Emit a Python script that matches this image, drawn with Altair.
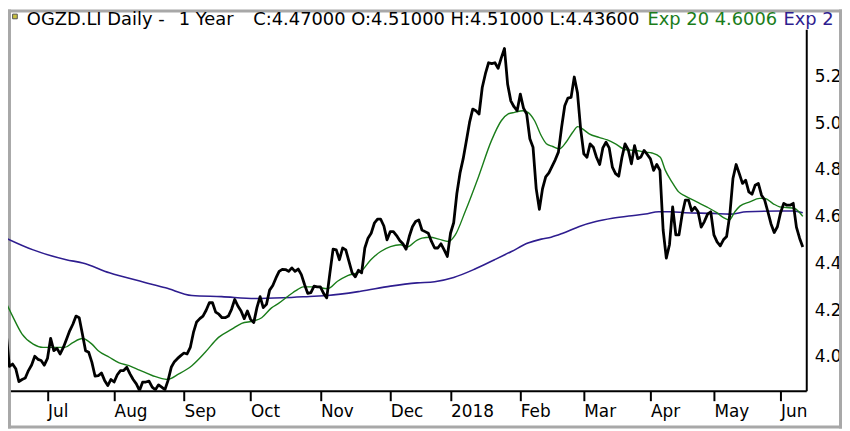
import altair as alt
import pandas as pd

# ---- data (trading-day index, daily close) ----
close = [
    4.10, 3.96, 3.97, 3.95, 3.895, 3.904, 3.91, 3.942, 3.966, 4.003,
    3.99, 3.985, 3.965, 3.994, 4.08, 4.027, 4.037, 4.013, 4.041, 4.076,
    4.112, 4.14, 4.175, 4.168, 4.098, 4.027, 4.02, 3.977, 3.918, 3.92,
    3.932, 3.90, 3.878, 3.904, 3.893, 3.924, 3.942, 3.942, 3.956, 3.928,
    3.904, 3.885, 3.857, 3.893, 3.893, 3.897, 3.871, 3.86, 3.881, 3.871,
    3.86, 3.90, 3.956, 3.98, 3.994, 4.006, 4.017, 4.013, 4.041, 4.105,
    4.15, 4.164, 4.175, 4.20, 4.232, 4.232, 4.192, 4.183, 4.168, 4.168,
    4.175, 4.204, 4.246, 4.218, 4.197, 4.164, 4.197, 4.161, 4.147, 4.211,
    4.258, 4.211, 4.225, 4.286, 4.306, 4.338, 4.366, 4.375, 4.374, 4.366,
    4.381, 4.366, 4.376, 4.352, 4.31, 4.272, 4.275, 4.303, 4.30, 4.30,
    4.272, 4.253, 4.36, 4.461, 4.458, 4.416, 4.466, 4.458, 4.409, 4.36,
    4.343, 4.371, 4.36, 4.466, 4.508, 4.529, 4.572, 4.589, 4.589, 4.56,
    4.501, 4.536, 4.536, 4.519, 4.498, 4.484, 4.461, 4.515, 4.557, 4.579,
    4.586, 4.543, 4.536, 4.529, 4.494, 4.466, 4.466, 4.484, 4.458, 4.43,
    4.529, 4.574, 4.699, 4.787, 4.848, 4.925, 5.003, 5.06, 5.053, 5.039,
    5.152, 5.211, 5.258, 5.254, 5.258, 5.234, 5.279, 5.319, 5.166, 5.095,
    5.07, 5.053, 5.124, 5.064, 5.039, 4.933, 4.897, 4.72, 4.631, 4.72,
    4.77, 4.787, 4.815, 4.843, 4.876, 4.982, 5.074, 5.107, 5.11, 5.197,
    5.13, 4.975, 4.869, 4.854, 4.911, 4.897, 4.854, 4.823, 4.894, 4.918,
    4.894, 4.812, 4.784, 4.773, 4.852, 4.911, 4.886, 4.826, 4.904, 4.848,
    4.855, 4.883, 4.866, 4.847, 4.798, 4.823, 4.798, 4.543, 4.423, 4.48,
    4.642, 4.522, 4.522, 4.61, 4.671, 4.671, 4.625, 4.64, 4.621, 4.555,
    4.579, 4.611, 4.621, 4.522, 4.492, 4.475, 4.501, 4.515, 4.607, 4.763,
    4.823, 4.784, 4.742, 4.756, 4.706, 4.696, 4.734, 4.742, 4.692, 4.671,
    4.621, 4.569, 4.532, 4.557, 4.617, 4.657, 4.649, 4.649, 4.657, 4.555,
    4.508, 4.47,
]

ema20_idx = [0, 2, 5, 8.5, 11.6, 14.7, 18.4, 21, 24, 27, 29, 32.5, 35.6, 38.7, 42,
             46, 50.7, 54.4, 58.5, 62.7, 66.9, 71.1, 74.2, 77.9, 80.5, 83.6, 85.7,
             88.8, 91.9, 93.5, 97.1, 101.3, 104.4, 107.6, 111.7, 114.9, 118, 121.1,
             124.2, 126.3, 129.5, 131, 133.6, 136.3, 139.4, 141.5, 144.6, 148.8,
             152.9, 156, 158.2, 160.2, 162.8, 164.4, 166.5, 168.6, 170.2, 172.2,
             174.3, 176.4, 178.5, 180.1, 181.6, 183.7, 186.8, 189.4, 192, 195.2,
             198.3, 201.4, 203.5, 206.1, 207.7, 209.8, 211.9, 214, 217.6, 220.7,
             223.9, 225.9, 227.8, 229.6, 231.2, 234.3, 237.4, 239, 241.6, 243.7,
             245.8, 248.4, 251]
ema20_val = [4.232, 4.175, 4.098, 4.055, 4.041, 4.041, 4.041, 4.062, 4.079, 4.055, 4.027,
             3.999, 3.975, 3.963, 3.944, 3.921, 3.904, 3.928, 3.963, 4.02, 4.084, 4.119,
             4.144, 4.154, 4.168, 4.21, 4.228, 4.26, 4.289, 4.30, 4.30, 4.292, 4.324,
             4.348, 4.366, 4.416, 4.451, 4.472, 4.48, 4.47, 4.50, 4.508, 4.512, 4.504,
             4.494, 4.522, 4.621, 4.77, 4.925, 5.01, 5.039, 5.046, 5.053, 5.046, 5.01,
             4.946, 4.912, 4.90, 4.89, 4.918, 4.961, 4.985, 4.975, 4.954, 4.939, 4.928,
             4.911, 4.886, 4.883, 4.876, 4.872, 4.854, 4.798, 4.748, 4.706, 4.688,
             4.663, 4.642, 4.617, 4.597, 4.586, 4.621, 4.645, 4.663, 4.678, 4.678,
             4.656, 4.642, 4.639, 4.635, 4.601]

ema200_idx = [0, 8.5, 18.9, 24.1, 32.5, 43.4, 50.2, 58.5, 67.9, 78.4, 87.2, 97, 101.3,
              111.7, 121.1, 129.5, 135, 141, 147.7, 153.9, 159.2, 164.4, 168.6, 171.7,
              175.4, 180.6, 185.8, 191, 196.2, 201.4, 205.6, 209.6, 213.9, 222.8, 228,
              233.3, 243.7, 247.9, 251]
ema200_val = [4.508, 4.458, 4.416, 4.402, 4.36, 4.32, 4.296, 4.263, 4.258, 4.25, 4.253,
              4.26, 4.263, 4.281, 4.303, 4.317, 4.322, 4.34, 4.376, 4.416, 4.451, 4.487,
              4.504, 4.512, 4.529, 4.558, 4.579, 4.593, 4.603, 4.611, 4.621, 4.621,
              4.617, 4.614, 4.611, 4.621, 4.624, 4.624, 4.617]

month_idx = [13, 34, 56, 77, 99, 121, 140, 162, 182, 203, 223, 244]
month_lbl = ["Jul", "Aug", "Sep", "Oct", "Nov", "Dec", "2018", "Feb", "Mar", "Apr", "May", "Jun"]
y_ticks = [4.0, 4.2, 4.4, 4.6, 4.8, 5.0, 5.2]

hdr_text = ["OGZD.LI Daily -", "1 Year", "C:4.47000 O:4.51000 H:4.51000 L:4.43600",
            "Exp 20 4.6006", "Exp 200 4.6170"]

# ---- styles ----
FONT = "DejaVu Sans"
GREEN = "#1a7d1a"
NAVY = "#2e1d8f"
BORDER = "#a8a8a8"
W, H = 804, 364

df_close = pd.DataFrame({"i": list(range(len(close))), "v": close})
df_e20 = pd.DataFrame({"i": ema20_idx, "v": ema20_val})
df_e200 = pd.DataFrame({"i": ema200_idx, "v": ema200_val})

xs = alt.Scale(domain=[0.56, 252.1], nice=False, zero=False)
ys = alt.Scale(domain=[3.8557, 5.4007], nice=False, zero=False)

lbl_expr = ("[" + ",".join("'%s'" % m for m in month_lbl) + "][indexof(["
            + ",".join(str(m) for m in month_idx) + "], datum.value)]")

x_axis = alt.Axis(values=month_idx, labelExpr=lbl_expr, title=None, grid=False,
                  tickSize=10, tickWidth=2, tickColor="black", domainColor="black",
                  domainWidth=2, labelAlign="left", labelBaseline="top", labelPadding=3,
                  labelFont=FONT, labelFontSize=17, labelColor="black",
                  labelFlush=False, labelOverlap=False)
y_axis = alt.Axis(orient="right", values=y_ticks, format=".1f", ticks=False, tickSize=0,
                  grid=False, domainColor="black", domainWidth=2, labelPadding=8,
                  labelFont=FONT, labelFontSize=17, labelColor="black", title=None,
                  labelFlush=False, labelOverlap=False)

one = pd.DataFrame({"k": [0]})


def rule(x, x2, y, y2):
    return alt.Chart(one).mark_rule(color=BORDER, strokeWidth=3).encode(
        x=alt.value(x), x2=alt.value(x2), y=alt.value(y), y2=alt.value(y2))


borders = [
    rule(0, 840, -18.5, -18.5),
    rule(1.5, 1.5, -20, 402),
    rule(838.5, 838.5, -20, 402),
    rule(0, 840, 400.5, 400.5),
]


def line(df, **kw):
    return alt.Chart(df).mark_line(clip=True, **kw).encode(
        x=alt.X("i:Q", scale=xs, axis=x_axis, title=None),
        y=alt.Y("v:Q", scale=ys, axis=y_axis, title=None))


e200_line = line(df_e200, color=NAVY, strokeWidth=1.6, interpolate="monotone")
e20_line = line(df_e20, color=GREEN, strokeWidth=1.4, interpolate="monotone")
close_line = line(df_close, color="black", strokeWidth=2.8, strokeJoin="round")

hdr_x = [19, 172, 247, 644, 781]
hdr_col = ["black", "black", "black", GREEN, NAVY]
hdr_limit = [400, 400, 420, 400, 58]
texts = []
for t, xp, c, lim in zip(hdr_text, hdr_x, hdr_col, hdr_limit):
    texts.append(alt.Chart(pd.DataFrame({"t": [t]})).mark_text(
        align="left", baseline="alphabetic", font=FONT, fontSize=18, color=c,
        limit=lim, ellipsis=" ").encode(text="t:N", x=alt.value(xp), y=alt.value(-4)))

icon = alt.Chart(one).mark_square(size=22, fill="#c8c040", stroke="#555555", strokeWidth=1,
                                  opacity=1).encode(x=alt.value(7), y=alt.value(-13))

chart = alt.layer(*borders, e200_line, e20_line, close_line, icon, *texts).properties(
    width=W, height=H, autosize="none",
    padding={"left": 0, "top": 20, "right": 36, "bottom": 38},
    background="white",
).configure_view(strokeWidth=0)

chart.save("out.html", embed_options={"renderer": "svg", "actions": False})
